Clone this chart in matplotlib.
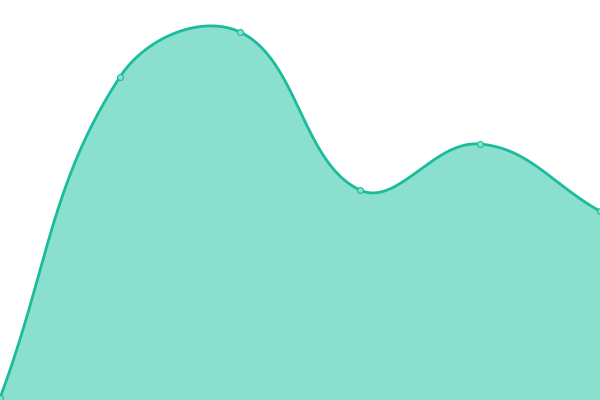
import numpy as np
import matplotlib
matplotlib.use("Agg")
import matplotlib.pyplot as plt

labels = ["A", "B", "C", "D", "E", "F"]
values = [0.5, 80.8, 92.0, 52.5, 64.0, 47.2]

line_color = "#1abc9c"
fill_color = "#8adfce"
tension = 0.4

fig = plt.figure(figsize=(6, 4), dpi=100)
ax = fig.add_axes([0, 0, 1, 1])
ax.set_xlim(0, len(values) - 1)
ax.set_ylim(0, 100)
ax.axis("off")

# spline like chart.js, control points worked out in pixel units
xs = np.arange(len(values), dtype=float)
ys = np.array(values, dtype=float)
sx, sy = 600.0 / (len(values) - 1), 4.0
px, py = xs * sx, ys * sy
n = len(px)
cp_prev = np.zeros((n, 2))
cp_next = np.zeros((n, 2))
for i in range(n):
    p = np.array([px[max(i - 1, 0)], py[max(i - 1, 0)]])
    c = np.array([px[i], py[i]])
    q = np.array([px[min(i + 1, n - 1)], py[min(i + 1, n - 1)]])
    d01 = np.hypot(*(c - p))
    d12 = np.hypot(*(q - c))
    tot = d01 + d12
    s01 = d01 / tot if tot else 0
    s12 = d12 / tot if tot else 0
    cp_prev[i] = c - tension * s01 * (q - p)
    cp_next[i] = c + tension * s12 * (q - p)

cx, cy = [], []
t = np.linspace(0, 1, 60)
for i in range(n - 1):
    p0 = np.array([px[i], py[i]])
    p1 = cp_next[i]
    p2 = cp_prev[i + 1]
    p3 = np.array([px[i + 1], py[i + 1]])
    b = ((1 - t) ** 3)[:, None] * p0 + (3 * (1 - t) ** 2 * t)[:, None] * p1 \
        + (3 * (1 - t) * t ** 2)[:, None] * p2 + (t ** 3)[:, None] * p3
    cx.extend(b[:, 0] / sx)
    cy.extend(b[:, 1] / sy)

ax.fill_between(cx, cy, 0, color=fill_color, linewidth=0)
ax.plot(cx, cy, color=line_color, linewidth=2.0, solid_capstyle="round", clip_on=False)
ax.scatter(xs, ys, s=18, color=fill_color, edgecolors=line_color, linewidths=0.8,
           zorder=3, clip_on=False)

fig.savefig("out.png", dpi=100)
